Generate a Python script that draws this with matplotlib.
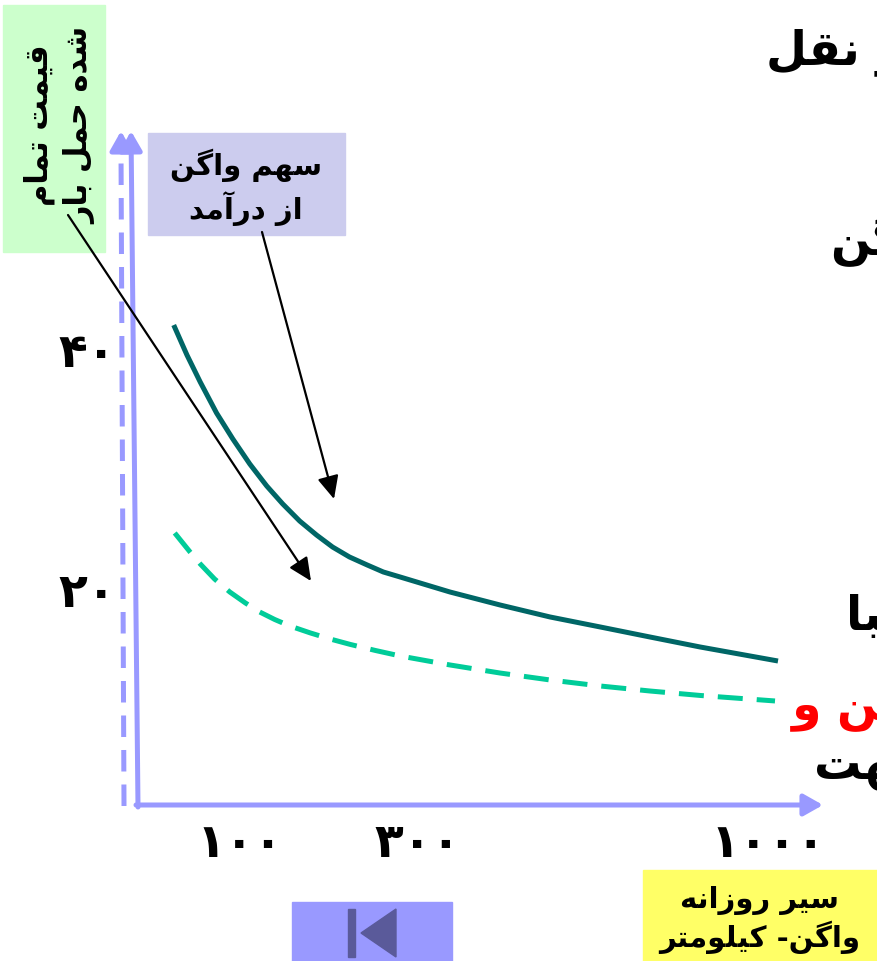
import matplotlib
matplotlib.use('Agg')
import matplotlib.pyplot as plt
import numpy as np
from matplotlib.patches import Rectangle, Polygon

# curve data: daily wagon-km vs. cost per freight unit
km_solid = [35, 48, 61, 77, 93, 111, 130, 148, 167, 186, 204, 223, 243, 261, 280,
            364, 464, 564, 664, 764, 864, 1020]
cost_solid = [42.08, 39.58, 37.33, 34.75, 32.58, 30.5, 28.67, 27.17, 25.75, 24.58,
              23.58, 22.75, 22.08, 21.5, 21.08, 19.83, 18.75, 17.75, 16.92, 16.08,
              15.25, 14.08]
km_dash = [36, 51, 61, 75, 90, 106, 122, 139, 156, 179, 201, 224, 252, 280,
           364, 464, 564, 664, 764, 864, 1014]
cost_dash = [24.75, 23.17, 22.17, 20.92, 19.83, 18.92, 18.17, 17.54, 17.0, 16.42,
             15.92, 15.46, 14.96, 14.5, 13.75, 13.08, 12.5, 12.0, 11.58, 11.21, 10.75]
x_ticks = [100, 300, 1000]
y_ticks = [20, 40]

W, H = 878, 961
BLUE = '#9999ff'

# minimal Persian shaping: isolated, final, initial, medial forms
FORMS = {
    'ا': ('\uFE8D', '\uFE8E', None, None),
    'آ': ('\uFE81', '\uFE82', None, None),
    'ب': ('\uFE8F', '\uFE90', '\uFE91', '\uFE92'),
    'ت': ('\uFE95', '\uFE96', '\uFE97', '\uFE98'),
    'ج': ('\uFE9D', '\uFE9E', '\uFE9F', '\uFEA0'),
    'ح': ('\uFEA1', '\uFEA2', '\uFEA3', '\uFEA4'),
    'د': ('\uFEA9', '\uFEAA', None, None),
    'ر': ('\uFEAD', '\uFEAE', None, None),
    'ز': ('\uFEAF', '\uFEB0', None, None),
    'س': ('\uFEB1', '\uFEB2', '\uFEB3', '\uFEB4'),
    'ش': ('\uFEB5', '\uFEB6', '\uFEB7', '\uFEB8'),
    'ق': ('\uFED5', '\uFED6', '\uFED7', '\uFED8'),
    'ل': ('\uFEDD', '\uFEDE', '\uFEDF', '\uFEE0'),
    'م': ('\uFEE1', '\uFEE2', '\uFEE3', '\uFEE4'),
    'ن': ('\uFEE5', '\uFEE6', '\uFEE7', '\uFEE8'),
    'ه': ('\uFEE9', '\uFEEA', '\uFEEB', '\uFEEC'),
    'و': ('\uFEED', '\uFEEE', None, None),
    'ک': ('\uFB8E', '\uFB8F', '\uFB90', '\uFB91'),
    'گ': ('\uFB92', '\uFB93', '\uFB94', '\uFB95'),
    'ی': ('\uFBFC', '\uFBFD', '\uFBFE', '\uFBFF'),
}


def shape_line(s):
    out = []
    for i, c in enumerate(s):
        if c not in FORMS:
            out.append(c)
            continue
        prev = s[i - 1] if i > 0 else ''
        nxt = s[i + 1] if i + 1 < len(s) else ''
        jp = prev in FORMS and FORMS[prev][2] is not None
        jn = FORMS[c][2] is not None and nxt in FORMS
        iso, fin, ini, med = FORMS[c]
        if jp and jn:
            out.append(med)
        elif jp:
            out.append(fin)
        elif jn:
            out.append(ini)
        else:
            out.append(iso)
    return ''.join(out)[::-1]


def fa(text):
    return '\n'.join(shape_line(l) for l in text.split('\n'))


def fa_num(v):
    return str(v).translate(str.maketrans('0123456789', '۰۱۲۳۴۵۶۷۸۹'))


plt.rcParams['font.family'] = ['DejaVu Sans']
fig = plt.figure(figsize=(W / 100, H / 100), dpi=100)

# background layer in pixel coordinates (y grows downward)
bg = fig.add_axes([0, 0, 1, 1])
bg.set_xlim(0, W)
bg.set_ylim(H, 0)
bg.axis('off')

bg.add_patch(Rectangle((3, 5), 102, 247, color='#ccffcc', zorder=1))
bg.text(60, 125, fa('قیمت تمام\nشده حمل بار'), rotation=90, ha='center', va='center',
        fontsize=22, fontweight='bold', linespacing=1.4, zorder=2)

bg.add_patch(Rectangle((148, 133), 197, 102, color='#ccccee', zorder=1))
bg.text(246, 187, fa('سهم واگن\nاز درآمد'), ha='center', va='center',
        fontsize=21, fontweight='bold', linespacing=1.34, zorder=2)

bg.add_patch(Rectangle((643, 870), 235, 91, color='#ffff66', zorder=1))
bg.text(760, 920, fa('سیر روزانه\nواگن- کیلومتر'), ha='center', va='center',
        fontsize=21, fontweight='bold', linespacing=1.25, zorder=2)

# slide navigation button
bg.add_patch(Rectangle((292, 902), 160, 59, color=BLUE, zorder=1))
bg.add_patch(Rectangle((348, 909), 7, 48, color='#5a5a9a', zorder=2))
bg.add_patch(Polygon([[361, 933], [396, 909], [396, 957]], color='#5a5a9a', zorder=2))

# truncated slide text at the right edge
side = [('حمل و نقل', 766, 52, 'black'), ('واگن', 830, 240, 'black'),
        ('(', 873, 447, 'black'), ('تقریبا', 846, 617, 'black'),
        ('واگن و', 792, 705, 'red'), ('جهت', 814, 768, 'black')]
for s, x, y, c in side:
    bg.text(x, y, fa(s), ha='left', va='center', fontsize=34,
            fontweight='bold', color=c, zorder=2)

# chart axes drawn as arrows
head = dict(arrowstyle='-|>,head_length=1.15,head_width=0.65', color=BLUE,
            lw=3.6, shrinkA=0, shrinkB=0)
bg.annotate('', xy=(131, 131), xytext=(138, 807), arrowprops=head, zorder=3)
bg.annotate('', xy=(823, 805), xytext=(136, 805), arrowprops=head, zorder=3)
bg.plot([124, 121], [806, 150], color=BLUE, lw=3.6, dashes=(4.3, 2.6),
        solid_capstyle='butt', zorder=3)
bg.annotate('', xy=(121, 131), xytext=(121, 152), arrowprops=head, zorder=3)

# pointer arrows from the labels
ptr = dict(arrowstyle='-|>,head_length=1.4,head_width=0.65', color='black',
           lw=1.6, shrinkA=0, shrinkB=0)
bg.annotate('', xy=(334, 499), xytext=(262, 232), arrowprops=ptr, zorder=4)
bg.annotate('', xy=(311, 581), xytext=(68, 215), arrowprops=ptr, zorder=4)

# data axes with a compressed wagon-km scale
km_knots = [0, 100, 300, 1000, 1104]
pos_knots = [0, 102, 280, 630, 682]


def fwd(x):
    return np.interp(x, km_knots, pos_knots)


def inv(u):
    return np.interp(u, pos_knots, km_knots)


ax = fig.add_axes([138 / W, (H - 805) / H, (820 - 138) / W, (805 - 140) / H])
ax.set_xscale('function', functions=(fwd, inv))
ax.set_xlim(0, 1104)
ax.set_ylim(2.08, 57.5)
ax.patch.set_alpha(0)
for sp in ax.spines.values():
    sp.set_visible(False)

ax.plot(km_solid, cost_solid, color='#006666', lw=3.6, solid_capstyle='butt',
        solid_joinstyle='round')
ax.plot(km_dash, cost_dash, color='#00cc99', lw=3.6, dashes=(5, 2.8),
        dash_capstyle='butt')

ax.set_xticks(x_ticks, [fa_num(v) for v in x_ticks])
ax.set_yticks(y_ticks, [fa_num(v) for v in y_ticks])
ax.xaxis.set_minor_locator(matplotlib.ticker.NullLocator())
ax.tick_params(length=0, labelsize=34)
ax.tick_params(axis='x', pad=12)
ax.tick_params(axis='y', pad=16)
for lab in ax.get_xticklabels() + ax.get_yticklabels():
    lab.set_fontweight('bold')

fig.savefig('out.png', dpi=100)
